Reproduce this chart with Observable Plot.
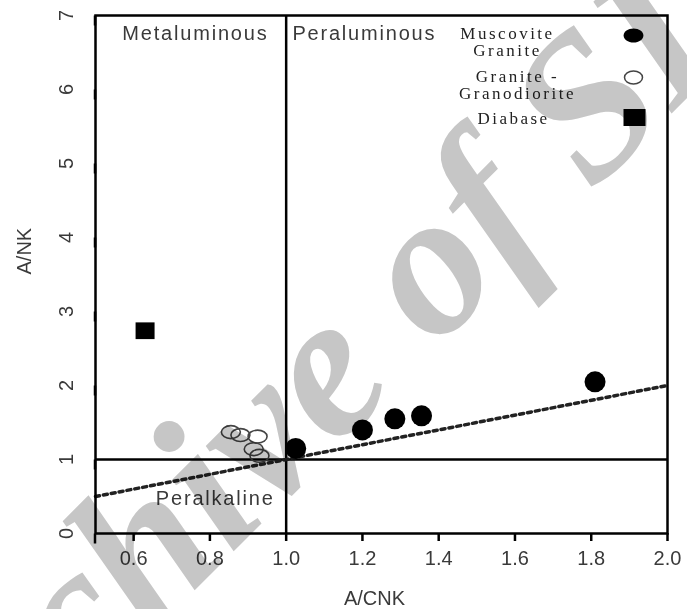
<!DOCTYPE html>
<html><head><meta charset="utf-8">
<script src="https://cdn.jsdelivr.net/npm/d3@7"></script>
<script src="https://cdn.jsdelivr.net/npm/@observablehq/plot@0.6"></script>
<style>
html,body{margin:0;padding:0;background:#fff;}
#wrap{position:relative;width:687px;height:609px;overflow:hidden;}
#wm{position:absolute;left:0;top:0;pointer-events:none;mix-blend-mode:multiply;}
</style></head><body><div id="wrap"></div>
<script>
// ---- data ----
const seriesNames = ["Muscovite\nGranite", "Granite -\nGranodiorite", "Diabase"];
const muscoviteX = [1.025, 1.20, 1.285, 1.355, 1.81];
const muscoviteY = [1.15, 1.40, 1.55, 1.59, 2.05];
const graniteX = [0.855, 0.880, 0.925, 0.915, 0.930];
const graniteY = [1.37, 1.33, 1.31, 1.14, 1.05];
const diabaseX = [0.63];
const diabaseY = [2.74];
const boundaryACNK = [1.0];
const boundaryANK = [1.0];
const refLineX = [0.5, 2.0];
const refLineY = [0.5, 2.0];
const xTicks = [0.6, 0.8, 1.0, 1.2, 1.4, 1.6, 1.8, 2.0];
const yTicks = [0, 1, 2, 3, 4, 5, 6, 7];
const regionNames = ["Metaluminous", "Peraluminous", "Peralkaline"];
const regionX = [0.762, 1.205, 0.814];
const regionY = [6.76, 6.76, 0.47];
const xTitle = "A/CNK";
const yTitle = "A/NK";
const watermark = "Archive of SID";

// ---- tables ----
const muscovite = muscoviteX.map((x, i) => ({x, y: muscoviteY[i]}));
const granite = graniteX.map((x, i) => ({x, y: graniteY[i]}));
const diabase = diabaseX.map((x, i) => ({x, y: diabaseY[i]}));
const refLine = refLineX.map((x, i) => ({x, y: refLineY[i]}));
const regions = regionNames.map((t, i) => ({t, x: regionX[i], y: regionY[i]}));

// custom symbols
const ellipse = (ax, ay) => ({draw(ctx, size) {
  const r = Math.sqrt(size / Math.PI), rx = r * ax, ry = r * ay, k = 0.5523;
  ctx.moveTo(rx, 0);
  ctx.bezierCurveTo(rx, ry * k, rx * k, ry, 0, ry);
  ctx.bezierCurveTo(-rx * k, ry, -rx, ry * k, -rx, 0);
  ctx.bezierCurveTo(-rx, -ry * k, -rx * k, -ry, 0, -ry);
  ctx.bezierCurveTo(rx * k, -ry, rx, -ry * k, rx, 0);
  ctx.closePath();
}});
const rect = (ax, ay) => ({draw(ctx, size) {
  const r = Math.sqrt(size / Math.PI), w = r * ax, h = r * ay;
  ctx.moveTo(-w, -h); ctx.lineTo(w, -h); ctx.lineTo(w, h); ctx.lineTo(-w, h); ctx.closePath();
}});

const sans = "'Liberation Sans', Arial, Helvetica, sans-serif";
const serif = "'Liberation Serif', 'Times New Roman', serif";
const legendText = {frameAnchor: "top-right", fontFamily: serif, fontSize: 17, lineHeight: 1,
  fill: "#222", textAnchor: "middle", lineAnchor: "middle"};

const chart = Plot.plot({
  width: 687,
  height: 609,
  marginLeft: 95,
  marginRight: 20,
  marginTop: 15,
  marginBottom: 76,
  style: {fontFamily: sans, background: "white"},
  x: {domain: [0.5, 2.0]},
  y: {domain: [0, 7]},
  marks: [
    Plot.axisX(xTicks, {tickSize: 8, tickPadding: 9, tickFormat: d3.format(".1f"), fontSize: 20,
      stroke: "black", strokeWidth: 2.5, fill: "#3a3a3a", label: null}),
    Plot.axisY(yTicks, {tickSize: 10, tickPadding: 13, rotate: -90, textAnchor: "middle", lineAnchor: "bottom",
      tickFormat: d3.format("d"), fontSize: 20, stroke: "black", strokeWidth: 2.5, fill: "#3a3a3a", label: null}),
    Plot.text([xTitle], {frameAnchor: "bottom", lineAnchor: "middle", dx: -7, dy: 65, fontSize: 20, fill: "#3a3a3a",
      style: {letterSpacing: "1.5px"}}),
    Plot.text([yTitle], {frameAnchor: "left", dx: -71, rotate: -90, fontSize: 20, fill: "#3a3a3a"}),
    Plot.ruleX(boundaryACNK, {stroke: "black", strokeWidth: 2.5}),
    Plot.ruleY(boundaryANK, {stroke: "black", strokeWidth: 2.5}),
    Plot.line(refLine, {x: "x", y: "y", stroke: "#222", strokeWidth: 3.5, strokeDasharray: "4,4"}),
    Plot.text(regions, {x: "x", y: "y", text: "t", fontSize: 20, fill: "#3a3a3a"}),
    Plot.dot(granite, {x: "x", y: "y", r: 9.5, symbol: ellipse(1, 0.68), stroke: "#444", strokeWidth: 1.6, fill: "none"}),
    Plot.dot(diabase, {x: "x", y: "y", r: 9.5, symbol: rect(1, 0.88), fill: "black", stroke: "none"}),
    Plot.dot(muscovite, {x: "x", y: "y", r: 10.5, fill: "black", stroke: "none"}),
    // legend
    Plot.text([seriesNames[0]], {...legendText, dx: -160, dy: 26.5}),
    Plot.text([seriesNames[1]], {...legendText, dx: -150, dy: 69.5}),
    Plot.text([seriesNames[2]], {...legendText, dx: -154, dy: 103}),
    Plot.dot(["m"], {frameAnchor: "top-right", dx: -34, dy: 20, r: 9, symbol: ellipse(1.1, 0.78), fill: "black", stroke: "none"}),
    Plot.dot(["g"], {frameAnchor: "top-right", dx: -34, dy: 62, r: 9, symbol: ellipse(1, 0.72), fill: "none", stroke: "#444", strokeWidth: 1.5}),
    Plot.dot(["d"], {frameAnchor: "top-right", dx: -33, dy: 102, r: 10, symbol: rect(1.1, 0.85), fill: "black", stroke: "none"}),
    Plot.frame({stroke: "black", strokeWidth: 2.5})
  ]
});
document.getElementById("wrap").append(chart);

// letter spacing for region labels
d3.select(chart).selectAll("text").each(function() {
  if (regionNames.includes(this.textContent)) this.style.letterSpacing = "1.8px";
});
// legend letter spacing
d3.select(chart).selectAll("g[font-family]").each(function() {
  if ((this.getAttribute("font-family") || "").includes("Serif")) this.style.letterSpacing = "2.5px";
});
// watermark overlay
const wmSvg = d3.select("#wrap").append("svg").attr("id", "wm").attr("width", 687).attr("height", 609);
wmSvg.append("text")
  .attr("transform", "translate(383,402) rotate(-45)")
  .attr("text-anchor", "middle")
  .attr("font-family", serif)
  .attr("font-weight", "bold")
  .attr("font-style", "italic")
  .attr("font-size", 205)
  .attr("fill", "#c6c6c6")
  .text(watermark);
</script></body></html>
